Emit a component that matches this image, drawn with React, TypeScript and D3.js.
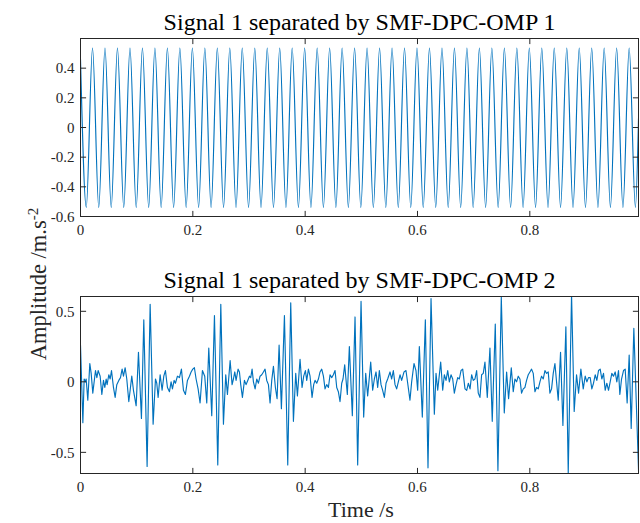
import React from 'react';
import * as d3 from 'd3';

// ---------- text ----------
const titles = ['Signal 1 separated by SMF-DPC-OMP 1', 'Signal 1 separated by SMF-DPC-OMP 2'];
const xLabel = 'Time /s';
const yLabelMain = 'Amplitude /m.s';
const yLabelSup = '-2';

// ---------- ticks ----------
const xTicks = [0, 0.2, 0.4, 0.6, 0.8];
const y1Ticks = [-0.6, -0.4, -0.2, 0, 0.2, 0.4];
const y2Ticks = [-0.5, 0, 0.5];
const xDomain = [0, 0.9935];
const y1Domain = [-0.6, 0.6];
const y2Domain = [-0.65, 0.605];

// ---------- signal 1 (sinusoid): extremes ----------
const sig1PeakTimes = [
  0.0214, 0.0436, 0.0658, 0.0881, 0.1103, 0.1325, 0.1547, 0.1769, 0.1992, 0.2214,
  0.2436, 0.2658, 0.288, 0.3103, 0.3325, 0.3547, 0.3769, 0.3991, 0.4214, 0.4436,
  0.4658, 0.488, 0.5102, 0.5325, 0.5547, 0.5769, 0.5991, 0.6213, 0.6436, 0.6658,
  0.688, 0.7102, 0.7324, 0.7547, 0.7769, 0.7991, 0.8213, 0.8435, 0.8658, 0.888,
  0.9102, 0.9324, 0.9546, 0.9769,
];
const sig1TroughTimes = [
  0.0103, 0.0325, 0.0547, 0.077, 0.0992, 0.1214, 0.1436, 0.1658, 0.1881, 0.2103,
  0.2325, 0.2547, 0.2769, 0.2992, 0.3214, 0.3436, 0.3658, 0.388, 0.4103, 0.4325,
  0.4547, 0.4769, 0.4991, 0.5214, 0.5436, 0.5658, 0.588, 0.6102, 0.6325, 0.6547,
  0.6769, 0.6991, 0.7213, 0.7436, 0.7658, 0.788, 0.8102, 0.8324, 0.8547, 0.8769,
  0.8991, 0.9213, 0.9435, 0.9658, 0.988,
];
const sig1PeakValue = 0.536;
const sig1TroughValue = -0.538;
const sig1StartValue = 0.46;
const sig1EndValue = 0.06;

// ---------- signal 2: times (ms) and values of the drawn vertices ----------
const sig2Times = [
  0, 4.2, 6.5, 8.9, 10.1, 13.0, 16.6, 19.0, 21.9, 26.7, 29.1, 31.4, 35.0, 38.0, 40.9, 43.3,
  45.7, 47.4, 50.4, 52.8, 55.2, 58.7, 61.7, 64.6, 68.2, 71.2, 74.1, 76.5, 79.5, 82.4, 86.0,
  88.4, 91.3, 94.3, 99.1, 103.2, 108.5, 112.7, 118.6, 124.0, 129.3, 133.5, 135.8, 138.2,
  141.8, 145.3, 148.3, 151.2, 154.8, 158.4, 161.3, 163.7, 166.7, 169.0, 172.6, 176.2, 179.7,
  183.3, 186.8, 190.4, 194.0, 196.9, 199.9, 202.8, 205.8, 209.4, 212.9, 217.1, 221.2, 224.8,
  228.4, 233.7, 238.5, 244.4, 249.8, 254.5, 258.6, 261.6, 266.4, 269.9, 272.3, 274.7, 277.0,
  280.6, 283.0, 285.3, 288.3, 291.9, 294.8, 297.8, 300.8, 303.1, 305.5, 307.9, 310.9, 313.8,
  316.8, 319.7, 322.7, 325.7, 328.6, 331.6, 334.6, 337.5, 340.5, 343.5, 347.0, 350.0, 353.6,
  357.7, 363.1, 369.0, 374.3, 379.1, 383.2, 386.2, 390.9, 394.5, 397.4, 400.4, 402.8, 405.8,
  408.7, 412.3, 415.2, 417.6, 420.6, 423.6, 426.5, 429.5, 432.5, 435.4, 438.4, 441.4, 444.3,
  447.3, 450.2, 453.2, 456.2, 459.1, 462.1, 465.1, 467.4, 470.4, 475.1, 478.7, 484.0, 488.8,
  493.5, 499.5, 504.2, 507.8, 511.3, 516.7, 520.2, 523.2, 526.2, 529.1, 532.1, 535.1, 538.0,
  541.0, 544.0, 546.9, 551.1, 554.0, 557.0, 560.0, 562.9, 565.9, 568.9, 571.8, 576.0, 579.5,
  586.6, 589.6, 593.8, 597.3, 600.3, 603.3, 608.6, 614.0, 618.7, 624.1, 630.0, 633.0, 636.0,
  641.3, 644.9, 647.8, 650.8, 653.8, 656.7, 659.7, 662.7, 665.6, 668.6, 671.6, 674.5, 677.5,
  680.5, 684.6, 687.6, 690.6, 693.6, 696.4, 699.3, 702.3, 705.3, 708.2, 711.2, 714.2, 717.1,
  720.1, 724.3, 729.0, 733.1, 738.5, 743.2, 749.2, 754.5, 758.7, 762.2, 767.0, 770.5, 773.5,
  776.4, 779.4, 782.4, 785.3, 788.3, 791.3, 794.2, 797.2, 800.2, 803.1, 806.1, 809.1, 812.0,
  815.0, 818.0, 820.9, 823.9, 826.9, 829.8, 832.8, 835.8, 838.7, 841.7, 844.7, 847.6, 850.6,
  854.7, 858.9, 864.2, 868.4, 874.3, 879.0, 883.2, 886.8, 890.9, 895.1, 898.6, 901.6, 904.5,
  907.5, 910.4, 913.4, 916.4, 919.3, 922.3, 925.3, 928.2, 931.2, 934.2, 937.1, 940.1, 943.1,
  946.0, 949.0, 952.0, 954.9, 957.9, 960.3, 963.3, 966.8, 969.8, 973.3, 976.9, 980.5, 985.2,
  994.0,
];
const sig2Values = [
  0.26, -0.29, 0.02, 0.0, 0.02, -0.13, 0.13, 0.06, -0.08, 0.08, 0.03, 0.08, 0.04, -0.09, 0.01, -0.04,
  0.02, -0.02, 0.05, 0.02, 0.08, -0.04, -0.11, -0.02, 0.01, 0.03, 0.09, 0.04, 0.1, 0.02, -0.14,
  -0.06, 0.04, -0.06, -0.17, 0.21, -0.26, 0.44, -0.6, 0.55, -0.3, 0.02, -0.01, -0.11,
  0.05, -0.06, 0.04, 0.08, -0.04, -0.07, 0.0, -0.05, 0.01, -0.01, 0.04, 0.03, 0.09,
  -0.06, -0.09, 0.01, 0.04, 0.07, 0.09, 0.1, 0.02, -0.05, -0.15, 0.08, 0.04, -0.15,
  0.24, -0.24, 0.47, -0.59, 0.55, -0.3, 0.05, -0.09, 0.15, -0.02, 0.02, 0.07, 0.01,
  0.09, 0.07, -0.02, -0.11, 0.01, -0.02, 0.01, 0.04, 0.03, 0.09, 0.0, -0.05, 0.02,
  -0.01, 0.04, 0.05, 0.07, 0.09, 0.01, -0.02, -0.15, 0.01, 0.11, -0.04, -0.12, 0.26,
  -0.19, 0.47, -0.59, 0.56, -0.28, 0.06, -0.1, 0.16, -0.04, 0.04, 0.08, 0.01, 0.09,
  0.04, -0.11, -0.02, 0.01, -0.01, 0.02, 0.07, 0.09, 0.04, -0.05, -0.02, -0.04, 0.05,
  0.03, 0.05, 0.08, -0.04, -0.07, -0.14, -0.01, 0.02, 0.12, -0.09, 0.25, -0.24, 0.46,
  -0.59, 0.57, -0.25, 0.06, -0.1, 0.14, -0.06, 0.02, 0.07, -0.04, 0.08, -0.02, -0.06,
  -0.11, -0.01, 0.02, 0.07, 0.02, 0.08, -0.02, -0.05, 0.0, 0.05, 0.01, 0.07, 0.08,
  -0.13, 0.0, 0.13, 0.08, -0.06, 0.25, -0.25, 0.44, -0.61, 0.59, -0.23, 0.06, -0.06,
  0.14, -0.06, 0.05, 0.01, 0.08, 0.0, 0.05, 0.02, -0.08, -0.02, 0.03, 0.02, 0.08,
  0.09, -0.05, -0.06, -0.01, -0.05, 0.05, 0.01, 0.02, 0.08, -0.08, -0.11, 0.05, 0.06,
  0.14, -0.11, 0.24, -0.28, 0.41, -0.63, 0.6, -0.22, 0.07, -0.12, 0.1, -0.07, 0.02,
  0.0, 0.04, 0.02, -0.08, -0.05, -0.04, 0.01, 0.05, 0.07, 0.09, 0.06, -0.07, -0.04,
  -0.05, 0.0, 0.04, 0.02, 0.08, 0.06, 0.07, -0.08, -0.05, 0.06, 0.13, 0.0, -0.13,
  0.21, -0.31, 0.39, -0.65, 0.62, -0.21, 0.05, -0.08, 0.09, -0.05, 0.04, 0.0, 0.03,
  0.03, -0.05, -0.01, 0.05, 0.01, 0.08, 0.09, 0.02, 0.06, -0.06, -0.01, -0.06, 0.0,
  0.06, 0.04, 0.07, 0.0, 0.08, -0.09, 0.02, 0.08, 0.09, -0.15, 0.19, -0.33, 0.38,
  -0.68,
];

// ---------- layout ----------
const W = 640;
const H = 523;
const left = 80.5;
const right = 638.5;
const panels = [
  { top: 38.5, bottom: 216.5 },
  { top: 296.5, bottom: 473.5 },
];
const axisColor = '#262626';
const lineColor = '#0072BD';
const font = '"Liberation Serif", "Times New Roman", serif';
const tickLen = 5.6;

type Pt = [number, number];

function Panel({ idx, title, yDomain, yTicks, data, curve }: {
  idx: number; title: string; yDomain: number[]; yTicks: number[]; data: Pt[]; curve: d3.CurveFactory;
}) {
  const { top, bottom } = panels[idx];
  const x = d3.scaleLinear().domain(xDomain).range([left, right]);
  const y = d3.scaleLinear().domain(yDomain).range([bottom, top]);
  const line = d3.line<Pt>().x((d) => x(d[0])).y((d) => y(d[1])).curve(curve);
  const clipId = `clip-${idx}`;
  return (
    <g>
      <defs>
        <clipPath id={clipId}>
          <rect x={left} y={top} width={right - left} height={bottom - top} />
        </clipPath>
      </defs>
      <rect x={left} y={top} width={right - left} height={bottom - top} fill="#fff" />
      <path d={line(data) || ''} fill="none" stroke={lineColor} strokeWidth={1.15} clipPath={`url(#${clipId})`} strokeLinejoin="round" />
      <rect x={left} y={top} width={right - left} height={bottom - top} fill="none" stroke={axisColor} strokeWidth={1} />
      {xTicks.map((t) => (
        <g key={`xt${t}`}>
          <line x1={x(t)} x2={x(t)} y1={bottom} y2={bottom - tickLen} stroke={axisColor} />
          <line x1={x(t)} x2={x(t)} y1={top} y2={top + tickLen} stroke={axisColor} />
          <text x={x(t)} y={bottom + 18.5} textAnchor="middle" fontSize={15} fill={axisColor} fontFamily={font}>{String(t)}</text>
        </g>
      ))}
      {yTicks.map((t) => (
        <g key={`yt${t}`}>
          <line x1={left} x2={left + tickLen} y1={y(t)} y2={y(t)} stroke={axisColor} />
          <line x1={right} x2={right - tickLen} y1={y(t)} y2={y(t)} stroke={axisColor} />
          <text x={left - 6} y={y(t)} dy="0.35em" textAnchor="end" fontSize={15} fill={axisColor} fontFamily={font}>{String(t)}</text>
        </g>
      ))}
      <text x={(left + right) / 2} y={top - 8.5} textAnchor="middle" fontSize={24} fill="#000" fontFamily={font}>{title}</text>
    </g>
  );
}

export default function App() {
  const sig1: Pt[] = [];
  sig1.push([xDomain[0], sig1StartValue]);
  sig1TroughTimes.forEach((t) => sig1.push([t, sig1TroughValue]));
  sig1PeakTimes.forEach((t) => sig1.push([t, sig1PeakValue]));
  sig1.push([xDomain[1], sig1EndValue]);
  sig1.sort((a, b) => a[0] - b[0]);

  const sig2: Pt[] = sig2Times.map((t, i) => [t / 1000, sig2Values[i]]);

  return (
    <svg width={W} height={H} style={{ position: 'absolute', left: 0, top: 0, background: '#fff' }}>
      <rect width={W} height={H} fill="#fff" />
      <Panel idx={0} title={titles[0]} yDomain={y1Domain} yTicks={y1Ticks} data={sig1} curve={d3.curveMonotoneX} />
      <Panel idx={1} title={titles[1]} yDomain={y2Domain} yTicks={y2Ticks} data={sig2} curve={d3.curveLinear} />
      <text x={361} y={517} textAnchor="middle" fontSize={22} fill={axisColor} fontFamily={font}>{xLabel}</text>
      <text transform="translate(46,284) rotate(-90)" textAnchor="middle" fontSize={22.5} fill={axisColor} fontFamily={font}>
        {yLabelMain}
        <tspan dy={-8} fontSize={15}>{yLabelSup}</tspan>
      </text>
    </svg>
  );
}
